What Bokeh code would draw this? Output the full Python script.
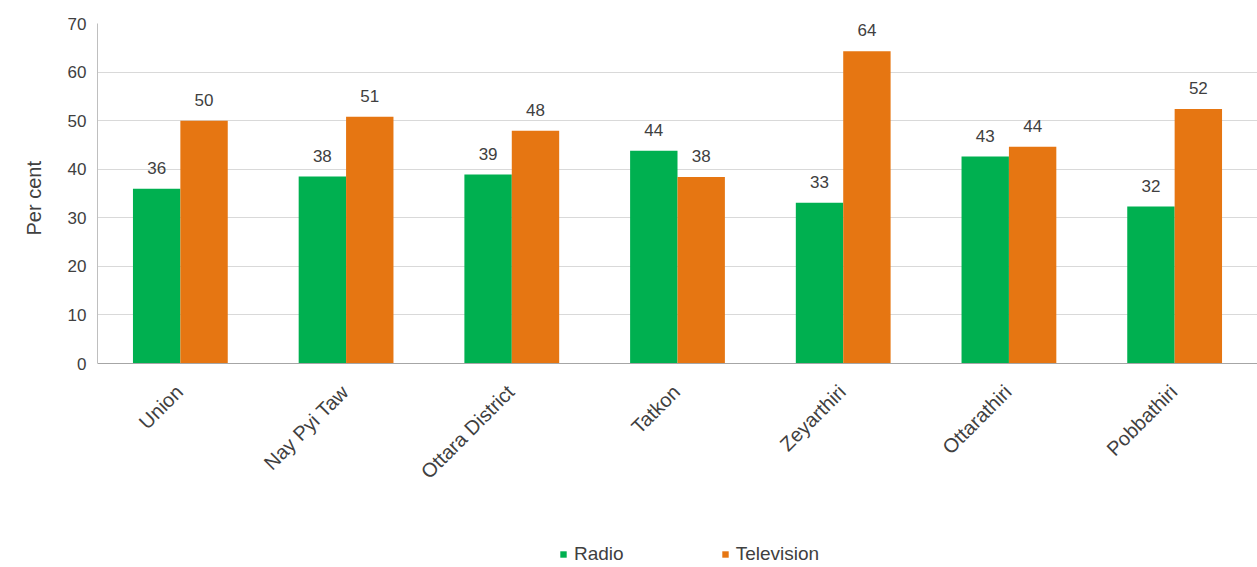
import math
from bokeh.plotting import figure
from bokeh.models import (ColumnDataSource, FactorRange, Range1d, Legend, LegendItem,
                          FixedTicker, Span, Title)
from bokeh.transform import dodge
from bokeh.core.properties import value
from bokeh.embed import file_html
from bokeh.resources import INLINE

categories = ["Union", "Nay Pyi Taw", "Ottara District", "Tatkon", "Zeyarthiri", "Ottarathiri", "Pobbathiri"]
radio = [36.0, 38.5, 38.9, 43.8, 33.1, 42.6, 32.3]
television = [50.0, 50.8, 47.9, 38.4, 64.3, 44.6, 52.4]
radio_labels = ["36", "38", "39", "44", "33", "43", "32"]
tv_labels = ["50", "51", "48", "38", "64", "44", "52"]
y_ticks = [0, 10, 20, 30, 40, 50, 60, 70]
series_names = ["Radio", "Television"]
y_title = "Per cent"

GREEN = "#00B050"
ORANGE = "#E67612"
TXT = "#404040"
FONT = "Liberation Sans"

src = ColumnDataSource(dict(cat=categories, radio=radio, tv=television,
                            rl=radio_labels, tl=tv_labels, base=[0] * len(categories)))

# frame covers the whole lower area; value 0 sits at the category baseline,
# the space under it holds the rotated category names and the legend
p = figure(width=1257, height=567, x_range=FactorRange(*categories), y_range=Range1d(-42, 70),
           output_backend="svg", toolbar_location=None, x_axis_location=None,
           min_border_left=83, min_border_right=0, min_border_top=23, min_border_bottom=0)
p.outline_line_color = None
p.background_fill_color = "white"
p.border_fill_color = "white"

bw = 0.286
r1 = p.vbar(x=dodge("cat", -bw / 2, range=p.x_range), top="radio", width=bw, source=src,
            fill_color=GREEN, line_color=None)
r2 = p.vbar(x=dodge("cat", bw / 2, range=p.x_range), top="tv", width=bw, source=src,
            fill_color=ORANGE, line_color=None)

p.text(x=dodge("cat", -bw / 2, range=p.x_range), y="radio", text="rl", source=src,
       text_align="center", text_baseline="bottom", y_offset=-15,
       text_font=value(FONT), text_font_size="17px", text_color=TXT)
p.text(x=dodge("cat", bw / 2, range=p.x_range), y="tv", text="tl", source=src,
       text_align="center", text_baseline="bottom", y_offset=-15,
       text_font=value(FONT), text_font_size="17px", text_color=TXT)

# category names, rotated 45 degrees, hanging below the baseline
p.text(x="cat", y="base", text="cat", source=src, angle=math.pi / 4,
       text_align="right", text_baseline="middle", x_offset=-1, y_offset=25,
       text_font=value(FONT), text_font_size="20px", text_color=TXT)

p.add_layout(Span(location=0, dimension="width", line_color="#A6A6A6", line_width=1))

p.xgrid.grid_line_color = None
p.ygrid.grid_line_color = "#D9D9D9"
p.ygrid.grid_line_width = 1
p.ygrid.ticker = FixedTicker(ticks=y_ticks[1:])

p.yaxis.ticker = FixedTicker(ticks=y_ticks)
p.yaxis.bounds = (0, 70)
p.yaxis.major_label_text_font = FONT
p.yaxis.major_label_text_font_size = "17px"
p.yaxis.major_label_text_color = TXT
p.yaxis.major_tick_line_color = None
p.yaxis.minor_tick_line_color = None
p.yaxis.major_label_standoff = 5
p.yaxis.axis_line_color = "#BFBFBF"

# y-axis title placed beside the value part of the axis
p.add_layout(Title(text=y_title, align="left", offset=332, standoff=40,
                   text_font=FONT, text_font_style="normal", text_font_size="20px",
                   text_color=TXT), "left")

legend = Legend(items=[LegendItem(label=series_names[0], renderers=[r1]),
                       LegendItem(label=series_names[1], renderers=[r2])],
                orientation="horizontal", location=(462, 2),
                glyph_width=8, glyph_height=8, label_height=16, label_standoff=7,
                spacing=97, padding=0, margin=0,
                label_text_font=FONT, label_text_font_size="19px", label_text_color=TXT,
                border_line_color=None, background_fill_alpha=0)
p.add_layout(legend, "center")

open("out.html", "w").write(file_html(p, INLINE))
